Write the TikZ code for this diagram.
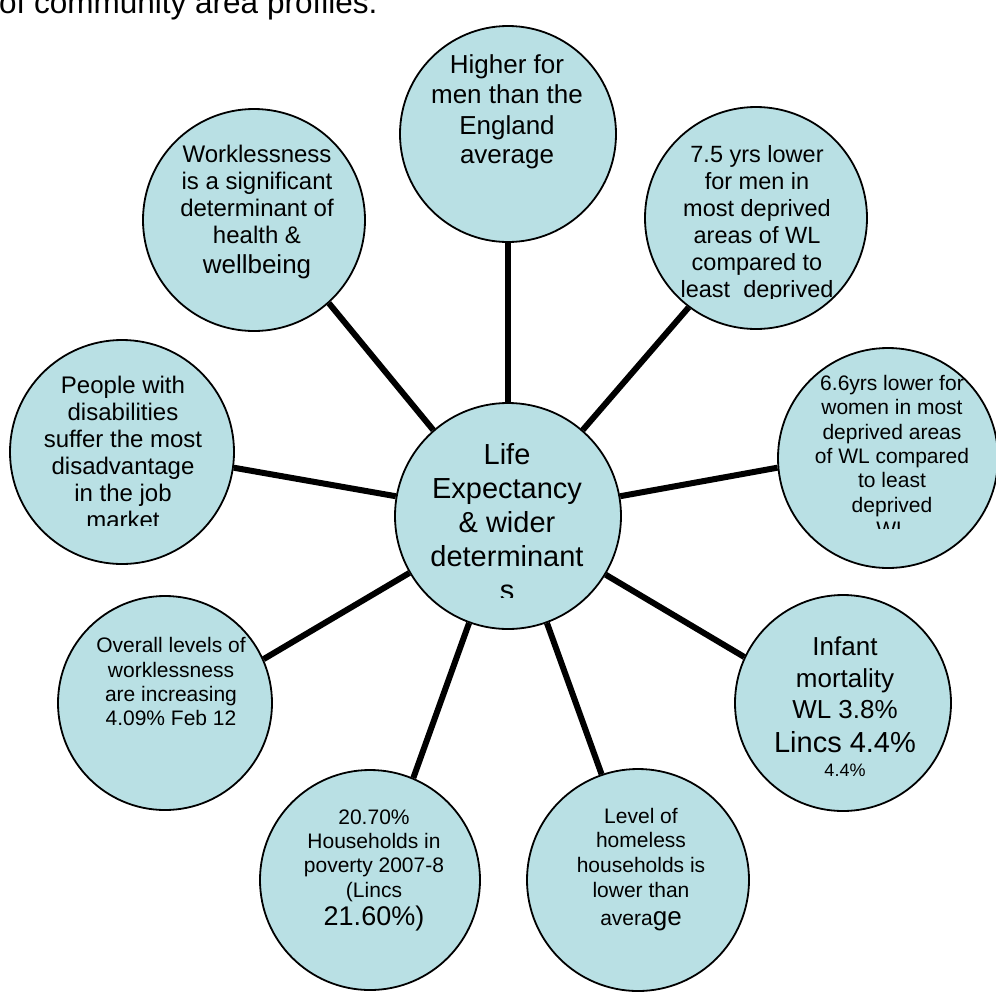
\documentclass[tikz,border=0pt]{standalone}
\usepackage{fontspec}
\setmainfont{Liberation Sans}
\definecolor{bubblefill}{RGB}{185,224,228}
\begin{document}
\begin{tikzpicture}[x=1pt,y=-1pt,
  bubble/.style={circle,draw=black,line width=1.8pt,fill=bubblefill,inner sep=0pt,minimum size=#1},
  link/.style={draw=black,line width=6pt},
  txt/.style={inner sep=0pt,anchor=base},
  fa/.style={txt,font=\fontsize{18}{21}\selectfont},
  fb/.style={txt,font=\fontsize{21}{25}\selectfont},
  fc/.style={txt,font=\fontsize{23.5}{27}\selectfont},
  fd/.style={txt,font=\fontsize{24}{28}\selectfont},
  fe/.style={txt,font=\fontsize{26}{30}\selectfont},
  ff/.style={txt,font=\fontsize{27}{31}\selectfont},
  fg/.style={txt,font=\fontsize{29}{34}\selectfont}]
\useasboundingbox (0,0) rectangle (996,994);
\fill[white] (0,0) rectangle (996,994);

% heading line above the diagram
\node[txt,font=\fontsize{31.5}{36}\selectfont,anchor=base west] (head) at (-1,13) {of community area profiles.};

% circles
\node[bubble=226pt] (c)  at (508,516) {};
\node[bubble=216pt] (n1) at (508,134) {};
\node[bubble=222pt] (n2) at (756,218) {};
\node[bubble=220pt] (n3) at (888,458) {};
\node[bubble=216pt] (n4) at (843,703) {};
\node[bubble=222pt] (n5) at (638,880) {};
\node[bubble=220pt] (n6) at (370,880) {};
\node[bubble=214pt] (n7) at (165,703) {};
\node[bubble=224pt] (n8) at (122,452) {};
\node[bubble=222pt] (n9) at (254,220) {};

% spokes
\draw[link] (c.90)  -- (n1.270);
\draw[link] (c.49)  -- (n2.233);
\draw[link] (c.10)  -- (n3.185);
\draw[link] (c.329) -- (n4.155);
\draw[link] (c.290) -- (n5.109);
\draw[link] (c.250) -- (n6.67);
\draw[link] (c.210) -- (n7.24);
\draw[link] (c.170) -- (n8.352);
\draw[link] (c.131) -- (n9.312);

% centre
\begin{scope}
  \clip (390,400) rectangle (625,597);
  \node[fg] (tc1) at (507,464) {Life};
  \node[fg] (tc2) at (507,498) {Expectancy};
  \node[fg] (tc3) at (507,532) {\& wider};
  \node[fg] (tc4) at (507,566) {determinant};
  \node[fg] (tc5) at (507,600) {s};
\end{scope}

% top
\node[fe] (t11) at (507,73)  {Higher for};
\node[fe] (t12) at (507,103) {men than the};
\node[fe] (t13) at (507,134) {England};
\node[fe] (t14) at (507,163) {average};

% upper right
\begin{scope}
  \clip (640,100) rectangle (870,298);
  \node[fc] (t21) at (757,162) {7.5 yrs lower};
  \node[fc] (t22) at (757,189) {for men in};
  \node[fc] (t23) at (757,216) {most deprived};
  \node[fc] (t24) at (757,243) {areas of WL};
  \node[fc] (t25) at (757,270) {compared to};
  \node[fc] (t26) at (757,297) {least\ \ deprived};
\end{scope}

% right
\begin{scope}
  \clip (775,340) rectangle (996,528);
  \node[fb] (t31) at (892,390) {6.6yrs lower for};
  \node[fb] (t32) at (892,414) {women in most};
  \node[fb] (t33) at (892,439) {deprived areas};
  \node[fb] (t34) at (892,463) {of WL compared};
  \node[fb] (t35) at (892,487) {to least};
  \node[fb] (t36) at (892,512) {deprived};
  \node[fb] (t37) at (892,536) {WL};
\end{scope}

% lower right
\node[fe] (t41) at (845,655) {Infant};
\node[fe] (t42) at (845,687) {mortality};
\node[fe] (t43) at (845,718) {WL 3.8\%};
\node[fg] (t44) at (845,752) {Lincs 4.4\%};
\node[fa] (t45) at (845,776) {4.4\%};

% bottom right
\node[fb] (t51) at (641,823) {Level of};
\node[fb] (t52) at (641,847) {homeless};
\node[fb] (t53) at (641,872) {households is};
\node[fb] (t54) at (641,897) {lower than};
\node[fb] (t55) at (641,925) {avera{\fontsize{26}{30}\selectfont ge}};

% bottom left
\node[fb] (t61) at (374,824) {20.70\%};
\node[fb] (t62) at (374,848) {Households in};
\node[fb] (t63) at (374,872) {poverty 2007-8};
\node[fb] (t64) at (374,897) {(Lincs};
\node[ff] (t65) at (374,925) {21.60\%)};

% lower left
\node[fb] (t71) at (171,652) {Overall levels of};
\node[fb] (t72) at (171,677) {worklessness};
\node[fb] (t73) at (171,701) {are increasing};
\node[fb] (t74) at (171,725) {4.09\% Feb 12};

% left
\begin{scope}
  \clip (0,340) rectangle (240,525);
  \node[fd] (t81) at (123,393) {People with};
  \node[fd] (t82) at (123,420) {disabilities};
  \node[fd] (t83) at (123,447) {suffer the most};
  \node[fd] (t84) at (123,474) {disadvantage};
  \node[fd] (t85) at (123,501) {in the job};
  \node[fd] (t86) at (123,528) {market};
\end{scope}

% upper left
\node[fd] (t91) at (257,162) {Worklessness};
\node[fd] (t92) at (257,189) {is a significant};
\node[fd] (t93) at (257,216) {determinant of};
\node[fd] (t94) at (257,243) {health \&};
\node[fe] (t95) at (257,273) {wellbeing};
\end{tikzpicture}
\end{document}
